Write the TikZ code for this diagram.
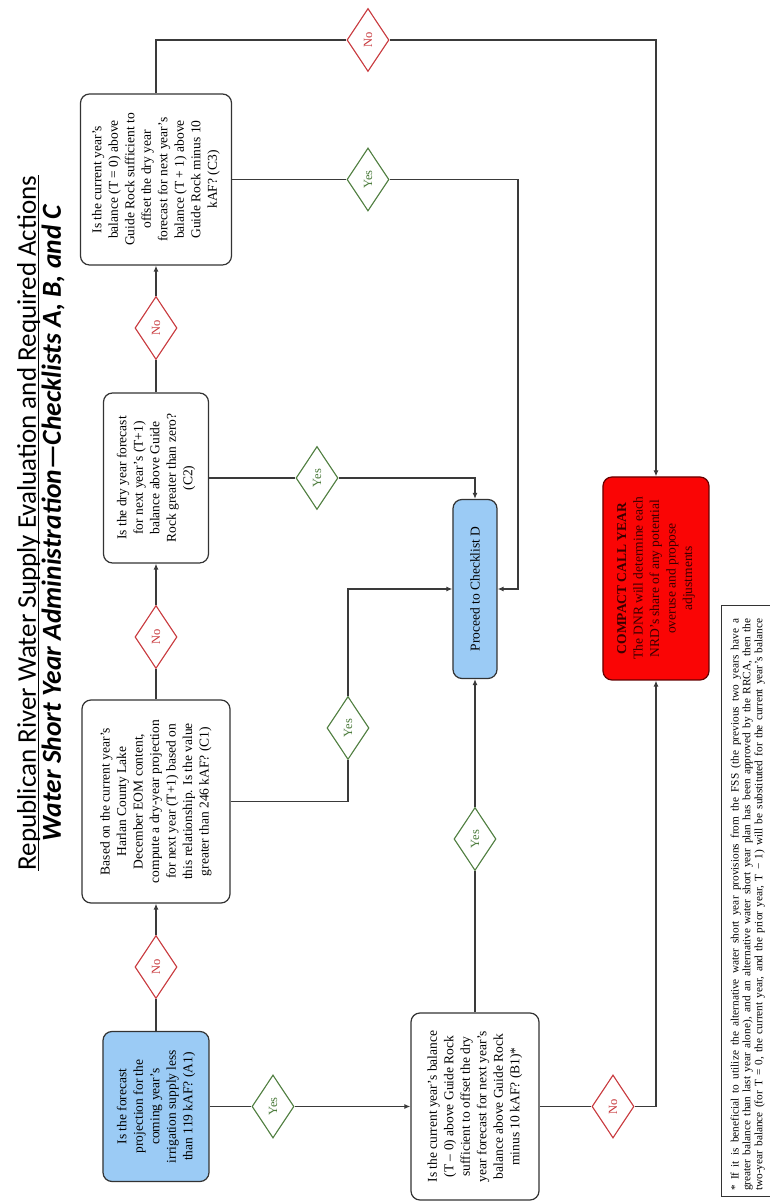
\documentclass[tikz,border=0pt]{standalone}
\usepackage{fontspec}
\setmainfont{Liberation Serif}
\newfontfamily\titlefont{Carlito}
\usetikzlibrary{arrows.meta,shapes.geometric}
\definecolor{lineC}{HTML}{3A3A3A}
\definecolor{boxblue}{HTML}{9BCBF5}
\definecolor{noRed}{HTML}{C8383C}
\definecolor{yesGreen}{HTML}{4E7D3E}
\definecolor{callRed}{HTML}{FA0505}
\definecolor{callText}{HTML}{3A0000}
\begin{document}
\begin{tikzpicture}[x=1pt,y=1pt,rotate=90,transform shape,
  conn/.style={draw=lineC, line width=1.2pt},
  arr/.style={conn, -{Latex[length=6pt,width=5pt]}},
  qbox/.style={draw=black!80, line width=1.2pt, rounded corners=9pt, align=center, inner sep=2pt, font=\fontsize{13.5}{16.5}\selectfont},
  dia/.style={diamond, draw, line width=1.1pt, fill=white, minimum width=63pt, minimum height=42pt, inner sep=0pt, font=\fontsize{12.5}{14}\selectfont},
  nodia/.style={dia, draw=noRed, text=noRed},
  yesdia/.style={dia, draw=yesGreen, text=yesGreen},
  ttl/.style={anchor=base, inner sep=0pt}
]
\fill[white] (0,0) rectangle (1202,769);
\useasboundingbox (0,0) rectangle (1202,769);

% title
\node[ttl, font=\titlefont\fontsize{27}{30}\selectfont] (t1) at (679,733) {Republican River Water Supply Evaluation and Required Actions};
\draw[line width=1.3pt] ([yshift=-2.8pt]t1.base west) -- ([yshift=-2.8pt]t1.base east);
\node[ttl, font=\titlefont\bfseries\itshape\fontsize{27.5}{30}\selectfont] (t2) at (679,708) {Water Short Year Administration—Checklists A, B, and C};

% boxes
\node[qbox, fill=boxblue, minimum width=150pt, minimum height=106pt] (A1) at (95.5,613) {Is the forecast\\projection for the\\coming year's\\irrigation supply less\\than 119 kAF? (A1)};
\node[qbox, minimum width=203pt, minimum height=148pt] (C1) at (400.5,613) {Based on the current year's\\Harlan County Lake\\December EOM content,\\compute a dry-year projection\\for next year (T+1) based on\\this relationship. Is the value\\greater than 246 kAF? (C1)};
\node[qbox, minimum width=170pt, minimum height=105pt] (C2) at (724,613) {Is the dry year forecast\\for next year's (T+1)\\balance above Guide\\Rock greater than zero?\\(C2)};
\node[qbox, minimum width=171pt, minimum height=151pt] (C3) at (1022.5,613) {Is the current year's\\balance (T = 0) above\\Guide Rock sufficient to\\offset the dry year\\forecast for next year's\\balance (T + 1) above\\Guide Rock minus 10\\kAF? (C3)};
\node[qbox, minimum width=187pt, minimum height=128pt] (B1) at (95.5,294) {Is the current year's balance\\(T – 0) above Guide Rock\\sufficient to offset the dry\\year forecast for next year's\\balance above Guide Rock\\minus 10 kAF? (B1)*};
\node[qbox, fill=boxblue, minimum width=179pt, minimum height=44pt] (PD) at (613,294) {Proceed to Checklist D};
\node[qbox, fill=callRed, draw=black!60!red, text=callText, minimum width=203pt, minimum height=106pt] (CC) at (623.5,113) {\textbf{COMPACT CALL YEAR}\\The DNR will determine each\\NRD's share of any potential\\overuse and propose\\adjustments};

% decision diamonds
\node[nodia] (nA1) at (235,613) {No};
\node[nodia] (nC1) at (565,613) {No};
\node[nodia] (nC2) at (874,613) {No};
\node[nodia] (nC3) at (1162,401) {No};
\node[nodia] (nB1) at (95.5,156) {No};
\node[yesdia] (yA1) at (95.5,496) {Yes};
\node[yesdia] (yB1) at (363,294) {Yes};
\node[yesdia] (yC1) at (474,421) {Yes};
\node[yesdia] (yC2) at (724,452) {Yes};
\node[yesdia] (yC3) at (1022.5,401) {Yes};

% bend points
\coordinate (c1a) at (400.5,421);
\coordinate (c1b) at (613,421);
\coordinate (c3a) at (1022.5,251);
\coordinate (c3b) at (613,251);
\coordinate (c3n) at (1162,613);
\coordinate (b1n) at (95.5,113);

% connectors
\draw[conn] (A1) -- (nA1); \draw[arr] (nA1) -- (C1);
\draw[conn] (C1) -- (nC1); \draw[arr] (nC1) -- (C2);
\draw[conn] (C2) -- (nC2); \draw[arr] (nC2) -- (C3);
\draw[conn] (C3) -- (c3n) -- (nC3); \draw[arr] (nC3) |- (CC);
\draw[conn] (A1) -- (yA1); \draw[arr] (yA1) -- (B1);
\draw[conn] (B1) -- (nB1); \draw[arr] (nB1) -- (b1n) -- (CC);
\draw[conn] (B1) -- (yB1); \draw[arr] (yB1) -- (PD);
\draw[conn] (C1) -- (c1a) -- (yC1); \draw[arr] (yC1) -- (c1b) -- (PD);
\draw[conn] (C2) -- (yC2); \draw[arr] (yC2) |- (PD);
\draw[conn] (C3) -- (yC3); \draw[arr] (yC3) -- (c3a) -- (c3b) -- (PD);

% footnote
\draw[line width=0.8pt, draw=black!80] (6,-40) rectangle (597,48);
\node[anchor=north west, inner sep=0pt, align=left, font=\fontsize{11.3}{11.8}\selectfont] (fn) at (11,38.5) {\makebox[572pt][s]{* If it is beneficial to utilize the alternative water short year provisions from the FSS (the previous two years have a}\\\makebox[572pt][s]{greater balance than last year alone), and an alternative water short year plan has been approved by the RRCA, then the}\\\makebox[572pt][s]{two-year balance (for T = 0, the current year, and the prior year, T − 1) will be substituted for the current year's balance}};
\end{tikzpicture}
\end{document}
